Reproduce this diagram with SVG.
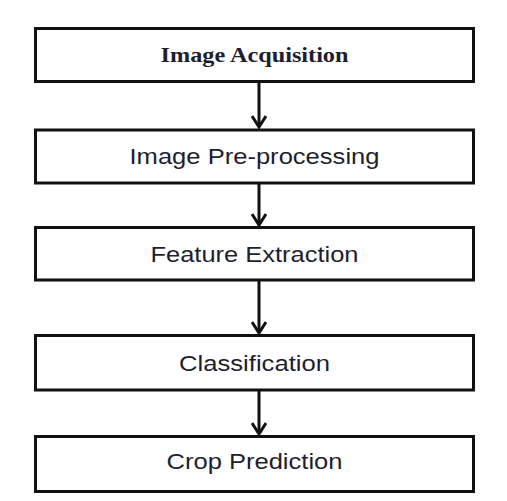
<svg xmlns="http://www.w3.org/2000/svg" width="507" height="501" viewBox="0 0 507 501">
<style>
.box{fill:#fff;stroke:#111;stroke-width:3}
.lbl{font-family:"Liberation Sans",Arial,sans-serif;font-size:22px;fill:#1e1e30;text-anchor:middle}
.ser{font-family:"Liberation Serif","Times New Roman",serif;font-size:21px;font-weight:bold;fill:#1e1e30;text-anchor:middle}
.con{stroke:#111;stroke-width:3;fill:none}
</style>
<defs>
<marker id="ah" markerUnits="userSpaceOnUse" viewBox="0 0 14 16" refX="12" refY="8" markerWidth="14" markerHeight="16" orient="auto">
<path d="M1,1 L12,8 L1,15" fill="none" stroke="#111" stroke-width="3"/>
</marker>
</defs>
<rect width="507" height="501" fill="#fff"/>
<g id="connectors">
<line class="con" x1="259" y1="82" x2="259" y2="127" marker-end="url(#ah)"/>
<line class="con" x1="259" y1="184" x2="259" y2="225" marker-end="url(#ah)"/>
<line class="con" x1="259" y1="281" x2="259" y2="333" marker-end="url(#ah)"/>
<line class="con" x1="259" y1="391" x2="259" y2="434" marker-end="url(#ah)"/>
</g>
<g id="n1"><rect class="box" x="35.5" y="28.5" width="438" height="53"/><text class="ser" x="254.5" y="62" textLength="188" lengthAdjust="spacingAndGlyphs">Image Acquisition</text></g>
<g id="n2"><rect class="box" x="35.5" y="130" width="438" height="53"/><text class="lbl" x="254.5" y="163.5" textLength="250" lengthAdjust="spacingAndGlyphs" font-size="24">Image Pre-processing</text></g>
<g id="n3"><rect class="box" x="35.5" y="227.5" width="438" height="52.5"/><text class="lbl" x="254.5" y="262" textLength="208" lengthAdjust="spacingAndGlyphs">Feature Extraction</text></g>
<g id="n4"><rect class="box" x="35.5" y="335.5" width="438" height="54.5"/><text class="lbl" x="254.5" y="371" textLength="151" lengthAdjust="spacingAndGlyphs">Classification</text></g>
<g id="n5"><rect class="box" x="35.5" y="436.5" width="438" height="55"/><text class="lbl" x="254.5" y="468.5" textLength="176" lengthAdjust="spacingAndGlyphs">Crop Prediction</text></g>
</svg>
